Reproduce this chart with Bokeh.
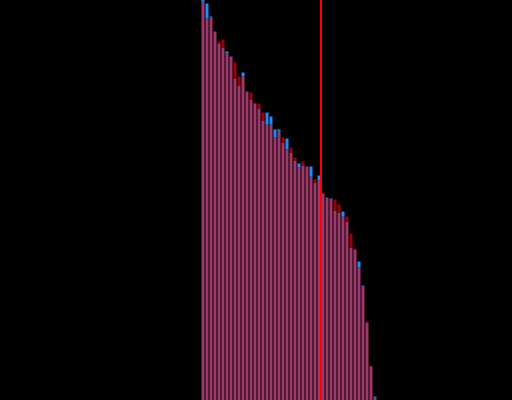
from bokeh.plotting import figure
from bokeh.models import Range1d, Span, ColumnDataSource
from bokeh.embed import file_html
from bokeh.resources import INLINE

# Two series compared per item (sorted descending)
blue_values = [403, 397, 384, 369, 357, 353, 349, 344, 322, 315, 328, 309,
               301, 297, 292, 280, 288, 284, 271, 271, 258, 262, 248, 240,
               237, 235, 234, 234, 218, 225, 207, 203, 202, 190, 188, 189,
               179, 153, 151, 139, 115, 78, 34, 4]
red_values = [399, 382, 383, 369, 359, 361, 347, 344, 338, 324, 324, 309,
              308, 298, 297, 288, 276, 276, 263, 269, 263, 251, 253, 243,
              233, 239, 234, 224, 221, 220, 208, 203, 201, 201, 196, 184,
              184, 167, 152, 133, 114, 79, 35, 3]
threshold_index = 29.5

MAUVE = "#9e386a"
BLUE = "#1e8cff"
DARKRED = "#a00000"

idx = list(range(len(blue_values)))
lo = [min(b, r) for b, r in zip(blue_values, red_values)]
hi = [max(b, r) for b, r in zip(blue_values, red_values)]
top_col = [BLUE if b > r else DARKRED for b, r in zip(blue_values, red_values)]

src = ColumnDataSource(dict(x=idx, lo=lo, hi=hi, col=top_col))

p = figure(width=514, height=402, output_backend="svg", toolbar_location=None,
           x_range=Range1d(-50.875, 77.625), y_range=Range1d(-1, 401),
           min_border=0, background_fill_color="black",
           border_fill_color="black", outline_line_color=None,
           styles={"position": "fixed", "top": "-1px", "left": "-1px",
                   "background-color": "black"})
p.axis.visible = False
p.grid.visible = False

p.vbar(x="x", bottom=-1, top="lo", width=0.75, fill_color=MAUVE,
       line_color=None, source=src)
p.vbar(x="x", bottom="lo", top="hi", width=0.75, fill_color="col",
       line_color=None, source=src)

p.add_layout(Span(location=threshold_index, dimension="height",
                  line_color="#ff0000", line_width=2))

open("out.html", "w").write(file_html(p, INLINE))
